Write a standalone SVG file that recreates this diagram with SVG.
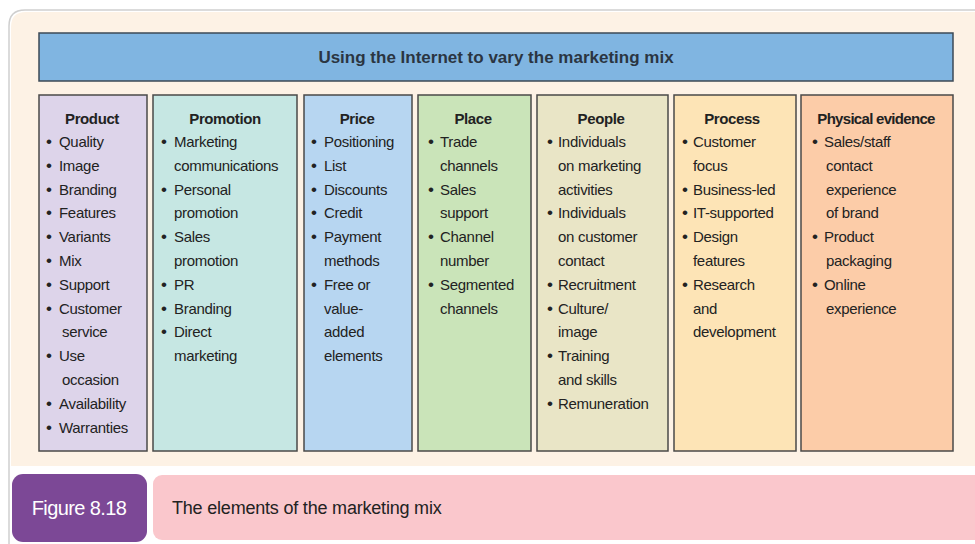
<svg xmlns="http://www.w3.org/2000/svg" width="975" height="544" viewBox="0 0 975 544">
<style>
.t{font-family:"Liberation Sans",Arial,sans-serif;font-size:15px;fill:#222222;letter-spacing:-0.3px}
.b{font-size:17px}
.h{font-family:"Liberation Sans",Arial,sans-serif;font-size:15px;font-weight:bold;fill:#222222;letter-spacing:-0.4px;text-anchor:middle}
.col{stroke:#4a4a48;stroke-width:1.5}
</style>
<rect x="0" y="0" width="975" height="544" fill="#ffffff"/>
<path d="M9,548 L9,26 Q9,10 25,10 L980,10" fill="none" stroke="#cfcfcf" stroke-width="1.5"/>
<path d="M11,466 L11,27 Q11,12 26,12 L975,12 L975,466 Z" fill="#fdf2e5"/>

<g id="header">
<rect x="39" y="33" width="914" height="48" fill="#80b5e1" stroke="#3d4a55" stroke-width="1.5"/>
<text x="496" y="63" text-anchor="middle" style="font-family:'Liberation Sans',Arial,sans-serif;font-size:17px;font-weight:bold;fill:#2b3542">Using the Internet to vary the marketing mix</text>
</g>

<g id="product">
<rect class="col" x="39" y="95" width="108" height="356" fill="#ddd4ea"/>
<text class="h" x="92" y="123.5">Product</text>
<g class="t">
<text class="b" x="46" y="147">•</text><text x="59" y="147">Quality</text>
<text class="b" x="46" y="170.8">•</text><text x="59" y="170.8">Image</text>
<text class="b" x="46" y="194.6">•</text><text x="59" y="194.6">Branding</text>
<text class="b" x="46" y="218.4">•</text><text x="59" y="218.4">Features</text>
<text class="b" x="46" y="242.2">•</text><text x="59" y="242.2">Variants</text>
<text class="b" x="46" y="266">•</text><text x="59" y="266">Mix</text>
<text class="b" x="46" y="289.8">•</text><text x="59" y="289.8">Support</text>
<text class="b" x="46" y="313.6">•</text><text x="59" y="313.6">Customer</text>
<text x="62" y="337.4">service</text>
<text class="b" x="46" y="361.2">•</text><text x="59" y="361.2">Use</text>
<text x="62" y="385">occasion</text>
<text class="b" x="46" y="408.8">•</text><text x="59" y="408.8">Availability</text>
<text class="b" x="46" y="432.6">•</text><text x="59" y="432.6">Warranties</text>
</g>
</g>

<g id="promotion">
<rect class="col" x="153" y="95" width="144" height="356" fill="#c6e7e3"/>
<text class="h" x="225" y="123.5">Promotion</text>
<g class="t">
<text class="b" x="161" y="147">•</text><text x="174" y="147">Marketing</text>
<text x="174" y="170.8">communications</text>
<text class="b" x="161" y="194.6">•</text><text x="174" y="194.6">Personal</text>
<text x="174" y="218.4">promotion</text>
<text class="b" x="161" y="242.2">•</text><text x="174" y="242.2">Sales</text>
<text x="174" y="266">promotion</text>
<text class="b" x="161" y="289.8">•</text><text x="174" y="289.8">PR</text>
<text class="b" x="161" y="313.6">•</text><text x="174" y="313.6">Branding</text>
<text class="b" x="161" y="337.4">•</text><text x="174" y="337.4">Direct</text>
<text x="174" y="361.2">marketing</text>
</g>
</g>

<g id="price">
<rect class="col" x="304" y="95" width="108" height="356" fill="#b7d6f1"/>
<text class="h" x="357" y="123.5">Price</text>
<g class="t">
<text class="b" x="311" y="147">•</text><text x="324" y="147">Positioning</text>
<text class="b" x="311" y="170.8">•</text><text x="324" y="170.8">List</text>
<text class="b" x="311" y="194.6">•</text><text x="324" y="194.6">Discounts</text>
<text class="b" x="311" y="218.4">•</text><text x="324" y="218.4">Credit</text>
<text class="b" x="311" y="242.2">•</text><text x="324" y="242.2">Payment</text>
<text x="324" y="266">methods</text>
<text class="b" x="311" y="289.8">•</text><text x="324" y="289.8">Free or</text>
<text x="324" y="313.6">value-</text>
<text x="324" y="337.4">added</text>
<text x="324" y="361.2">elements</text>
</g>
</g>

<g id="place">
<rect class="col" x="418" y="95" width="113" height="356" fill="#cae4b9"/>
<text class="h" x="473" y="123.5">Place</text>
<g class="t">
<text class="b" x="428" y="147">•</text><text x="440" y="147">Trade</text>
<text x="440" y="170.8">channels</text>
<text class="b" x="428" y="194.6">•</text><text x="440" y="194.6">Sales</text>
<text x="440" y="218.4">support</text>
<text class="b" x="428" y="242.2">•</text><text x="440" y="242.2">Channel</text>
<text x="440" y="266">number</text>
<text class="b" x="428" y="289.8">•</text><text x="440" y="289.8">Segmented</text>
<text x="440" y="313.6">channels</text>
</g>
</g>

<g id="people">
<rect class="col" x="537" y="95" width="131" height="356" fill="#e9e5c6"/>
<text class="h" x="601" y="123.5">People</text>
<g class="t">
<text class="b" x="547" y="147">•</text><text x="558" y="147">Individuals</text>
<text x="558" y="170.8">on marketing</text>
<text x="558" y="194.6">activities</text>
<text class="b" x="547" y="218.4">•</text><text x="558" y="218.4">Individuals</text>
<text x="558" y="242.2">on customer</text>
<text x="558" y="266">contact</text>
<text class="b" x="547" y="289.8">•</text><text x="558" y="289.8">Recruitment</text>
<text class="b" x="547" y="313.6">•</text><text x="558" y="313.6">Culture/</text>
<text x="558" y="337.4">image</text>
<text class="b" x="547" y="361.2">•</text><text x="558" y="361.2">Training</text>
<text x="558" y="385">and skills</text>
<text class="b" x="547" y="408.8">•</text><text x="558" y="408.8">Remuneration</text>
</g>
</g>

<g id="process">
<rect class="col" x="674" y="95" width="122" height="356" fill="#fde4b6"/>
<text class="h" x="732" y="123.5">Process</text>
<g class="t">
<text class="b" x="682" y="147">•</text><text x="693" y="147">Customer</text>
<text x="693" y="170.8">focus</text>
<text class="b" x="682" y="194.6">•</text><text x="693" y="194.6">Business-led</text>
<text class="b" x="682" y="218.4">•</text><text x="693" y="218.4">IT-supported</text>
<text class="b" x="682" y="242.2">•</text><text x="693" y="242.2">Design</text>
<text x="693" y="266">features</text>
<text class="b" x="682" y="289.8">•</text><text x="693" y="289.8">Research</text>
<text x="693" y="313.6">and</text>
<text x="693" y="337.4">development</text>
</g>
</g>

<g id="physical-evidence">
<rect class="col" x="801" y="95" width="152" height="356" fill="#fccca8"/>
<text class="h" x="876" y="123.5" style="letter-spacing:-0.7px">Physical evidence</text>
<g class="t">
<text class="b" x="812" y="147">•</text><text x="824" y="147">Sales/staff</text>
<text x="826" y="170.8">contact</text>
<text x="826" y="194.6">experience</text>
<text x="826" y="218.4">of brand</text>
<text class="b" x="812" y="242.2">•</text><text x="824" y="242.2">Product</text>
<text x="826" y="266">packaging</text>
<text class="b" x="812" y="289.8">•</text><text x="824" y="289.8">Online</text>
<text x="826" y="313.6">experience</text>
</g>
</g>

<g id="caption">
<rect x="12" y="474" width="135" height="68" rx="11" fill="#7c4896"/>
<text x="79" y="515" text-anchor="middle" style="font-family:'Liberation Sans',Arial,sans-serif;font-size:20px;fill:#ffffff;letter-spacing:-0.6px">Figure 8.18</text>
<rect x="153" y="475" width="835" height="65" rx="9" fill="#fac7cc"/>
<text x="172" y="514" style="font-family:'Liberation Sans',Arial,sans-serif;font-size:18px;fill:#222222;letter-spacing:-0.2px">The elements of the marketing mix</text>
</g>
</svg>
